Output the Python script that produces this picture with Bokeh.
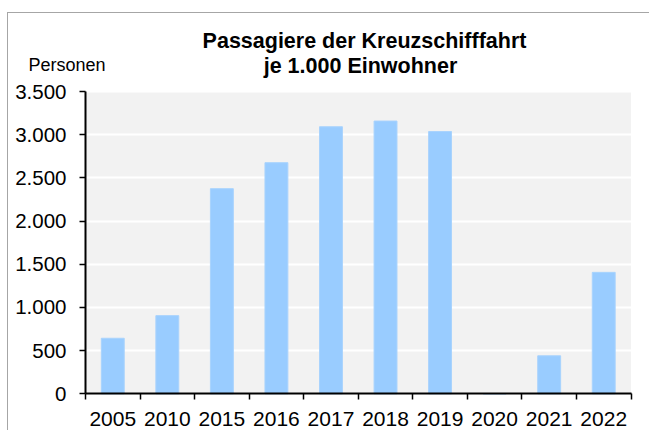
from bokeh.plotting import figure
from bokeh.models import (Range1d, FixedTicker, CustomJSTickFormatter, Label,
                          ColumnDataSource, BoxAnnotation)
from bokeh.embed import file_html
from bokeh.resources import INLINE

# ---- data ----
years = ["2005", "2010", "2015", "2016", "2017", "2018", "2019", "2020", "2021", "2022"]
passengers = [643, 905, 2375, 2676, 3092, 3158, 3037, 0, 440, 1406]
y_ticks = [0, 500, 1000, 1500, 2000, 2500, 3000, 3500]
y_tick_labels = ["0", "500", "1.000", "1.500", "2.000", "2.500", "3.000", "3.500"]
y_max = 3500
title_lines = ["Passagiere der Kreuzschifffahrt", "je 1.000 Einwohner"]
unit_label = "Personen"

FONT = "Liberation Sans"
n = len(years)
centers = [i + 0.5 for i in range(n)]
source = ColumnDataSource(dict(x=centers, year=years, top=passengers))

# ---- layout (pixels on the canvas) ----
W, H = 642, 418
PLOT_L, PLOT_R = 77.0, 622.5      # plot area edges from canvas left
PLOT_T, PLOT_B = 78.0, 380.3      # plot area edges from canvas top
px_x = (PLOT_R - PLOT_L) / n
px_y = (PLOT_B - PLOT_T) / y_max
x_range = Range1d(-PLOT_L / px_x, n + (W - PLOT_R) / px_x)
y_range = Range1d(-(H - PLOT_B) / px_y, y_max + PLOT_T / px_y)

p = figure(width=W, height=H, x_range=x_range, y_range=y_range,
           output_backend="svg", toolbar_location=None, min_border=0)
p.styles = {"margin-top": "12px", "margin-left": "7px",
            "border-top": "1px solid #a6a6a6", "border-left": "1px solid #a6a6a6"}
p.background_fill_color = "white"
p.border_fill_color = "white"
p.outline_line_color = None

# grey plot area
p.add_layout(BoxAnnotation(left=0, right=n, bottom=0, top=y_max,
                           fill_color="#f2f2f2", fill_alpha=1.0,
                           line_color=None, level="image"))

p.vbar(x="x", top="top", width=0.42, source=source, fill_color="#99ccff",
       line_color="#a9d3fd", line_width=1)

# x axis: labels at category centres, ticks at category boundaries
xaxis = p.xaxis[0]
xaxis.fixed_location = 0
xaxis.bounds = (0, n)
xaxis.ticker = FixedTicker(ticks=centers, minor_ticks=list(range(n + 1)))
xaxis.formatter = CustomJSTickFormatter(args=dict(labels=years),
                                        code="return labels[Math.floor(tick)] || '';")
xaxis.major_tick_line_color = None
xaxis.major_tick_out = 0
xaxis.major_tick_in = 0
xaxis.minor_tick_line_color = "black"
xaxis.minor_tick_line_width = 1.5
xaxis.minor_tick_out = 6
xaxis.minor_tick_in = 0
xaxis.axis_line_color = "black"
xaxis.axis_line_width = 2
xaxis.major_label_text_font = FONT
xaxis.major_label_text_font_size = "21px"
xaxis.major_label_text_color = "black"
xaxis.major_label_standoff = 12

# y axis
yaxis = p.yaxis[0]
yaxis.fixed_location = 0
yaxis.bounds = (0, y_max)
yaxis.ticker = FixedTicker(ticks=y_ticks)
yaxis.major_label_overrides = {t: l for t, l in zip(y_ticks, y_tick_labels)}
yaxis.major_tick_line_color = "black"
yaxis.major_tick_line_width = 1.5
yaxis.major_tick_out = 6
yaxis.major_tick_in = 0
yaxis.minor_tick_line_color = None
yaxis.axis_line_color = "black"
yaxis.axis_line_width = 2
yaxis.major_label_text_font = FONT
yaxis.major_label_text_font_size = "20.5px"
yaxis.major_label_text_color = "black"
yaxis.major_label_standoff = 13

p.ygrid.grid_line_color = "white"
p.ygrid.grid_line_width = 2
p.xgrid.visible = False

# titles and unit label (screen units, from canvas bottom-left)
p.add_layout(Label(x=356, y=H - 27.5, x_units="screen", y_units="screen",
                   text=title_lines[0], text_font=FONT, text_font_size="21.5px",
                   text_font_style="bold", text_align="center",
                   text_baseline="alphabetic", text_color="black"))
p.add_layout(Label(x=352, y=H - 52, x_units="screen", y_units="screen",
                   text=title_lines[1], text_font=FONT, text_font_size="21.5px",
                   text_font_style="bold", text_align="center",
                   text_baseline="alphabetic", text_color="black"))
p.add_layout(Label(x=20, y=H - 51.5, x_units="screen", y_units="screen",
                   text=unit_label, text_font=FONT, text_font_size="18px",
                   text_align="left", text_baseline="alphabetic",
                   text_color="black"))

open("out.html", "w").write(file_html(p, INLINE))
